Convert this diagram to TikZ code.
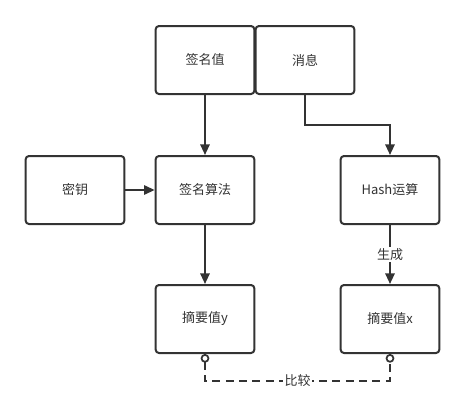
\documentclass[tikz,border=0pt]{standalone}
\usepackage{fontspec}
\setmainfont{Noto Sans CJK SC}
\usetikzlibrary{
    arrows.meta,
    positioning
}

\begin{document}
\begin{tikzpicture}[x=0.75pt, y=-0.75pt,
    font=\fontsize{9.75}{11}\selectfont,
    box/.style={draw=linegray, line width=1.5pt, rounded corners=2.5pt, fill=white,
        minimum width=74pt, minimum height=51pt, inner sep=0pt, text=textgray},
    flow/.style={draw=linegray, line width=1.5pt, -{Triangle[length=8pt,width=7pt]}},
    cmp/.style={draw=linegray, line width=1.5pt, dashed, dash pattern=on 6pt off 4pt,
        {Circle[open,length=6.5pt,width=6.5pt,line width=1.3pt]}-{Circle[open,length=6.5pt,width=6.5pt,line width=1.3pt]}},
    lbl/.style={fill=white, text=textgray, inner sep=1pt}
]
% Define palette
\definecolor{linegray}{RGB}{51, 51, 51}
\definecolor{textgray}{RGB}{51, 51, 51}

\useasboundingbox (0,0) rectangle (465,408);

% boxes
\node[box] (sigval) at (205,60) {签名值};
\node[box] (msg) at (305,60) {消息};
\node[box] (key) at (75,190) {密钥};
\node[box] (sigalg) at (205,190) {签名算法};
\node[box] (hash) at (390,190) {Hash运算};
\node[box] (digy) at (205,319) {摘要值y};
\node[box] (digx) at (390,319) {摘要值x};

% connectors
\draw[flow] (sigval) -- (sigalg);
\draw[flow] (msg.south) -- ++(0,30) -| (hash.north);
\draw[flow] (key) -- (sigalg);
\draw[flow] (sigalg) -- (digy);
\draw[flow] (hash) -- node[lbl] {生成} (digx);
\draw[cmp] (digy.south) -- ++(0,27) -| node[lbl, pos=0.25] {比较} (digx.south);
\end{tikzpicture}
\end{document}
